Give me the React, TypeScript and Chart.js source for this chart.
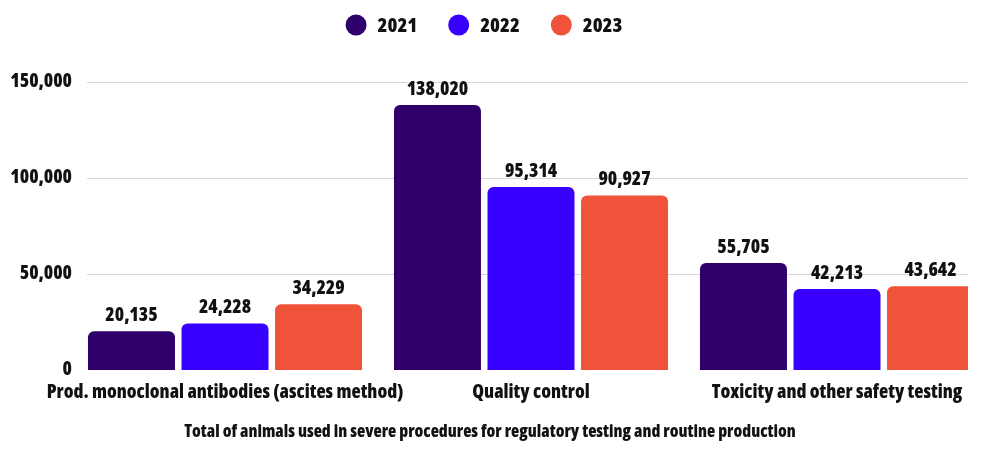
import React, { useEffect, useRef } from "react";
import { Chart, registerables } from "chart.js";

Chart.register(...registerables);

const categories = [
  "Prod. monoclonal antibodies (ascites method)",
  "Quality control",
  "Toxicity and other safety testing",
];
const seriesLabels = ["2021", "2022", "2023"];
const values2021 = [20135, 138020, 55705];
const values2022 = [24228, 95314, 42213];
const values2023 = [34229, 90927, 43642];
const yTicks = [0, 50000, 100000, 150000];
const colors = ["#2F006B", "#3700FF", "#EF533A"];
const footnote =
  "Total of animals used in severe procedures for regulatory testing and routine production";

// Condensed heavy sans (font-stretch goes in with the weight part of the shorthand)
const FAMILY = "'Open Sans'";
const HEAVY = "condensed 800";
const fmt = (v: number) => v.toLocaleString("en-US");

// Horizontal guide lines, starting a little right of the tick labels
const gridPlugin = {
  id: "guideLines",
  beforeDatasetsDraw(chart: any) {
    const { ctx } = chart;
    const y = chart.scales.y;
    ctx.save();
    ctx.strokeStyle = "#d6d6d6";
    ctx.lineWidth = 1;
    yTicks.forEach((t) => {
      if (t === 0) return;
      const py = Math.round(y.getPixelForValue(t)) + 0.5;
      ctx.beginPath();
      ctx.moveTo(87, py);
      ctx.lineTo(chart.width, py);
      ctx.stroke();
    });
    ctx.restore();
  },
};

// Value labels above every bar
const valueLabelPlugin = {
  id: "valueLabels",
  afterDatasetsDraw(chart: any) {
    const { ctx } = chart;
    ctx.save();
    ctx.font = `${HEAVY} 19px ${FAMILY}`;
    ctx.fillStyle = "#111";
    ctx.textAlign = "center";
    ctx.textBaseline = "alphabetic";
    chart.data.datasets.forEach((ds: any, i: number) => {
      const meta = chart.getDatasetMeta(i);
      meta.data.forEach((bar: any, j: number) => {
        ctx.fillText(fmt(ds.data[j]), bar.x, bar.y - 10);
      });
    });
    ctx.restore();
  },
};

// Round-dot legend centred above the plot, and the caption below the axis
const legendPlugin = {
  id: "dotLegend",
  afterDraw(chart: any) {
    const { ctx } = chart;
    const r = 10.5;
    const gap = 11;
    const itemGap = 31;
    ctx.save();
    ctx.font = `${HEAVY} 20px ${FAMILY}`;
    const widths = chart.data.datasets.map((d: any) => ctx.measureText(d.label).width);
    const total =
      widths.reduce((a: number, w: number) => a + 2 * r + gap + w, 0) + itemGap * (widths.length - 1);
    let x = 484 - total / 2;
    const cy = 25;
    ctx.textBaseline = "middle";
    ctx.textAlign = "left";
    chart.data.datasets.forEach((d: any, i: number) => {
      ctx.fillStyle = d.backgroundColor;
      ctx.beginPath();
      ctx.arc(x + r, cy, r, 0, Math.PI * 2);
      ctx.fill();
      ctx.fillStyle = "#111";
      ctx.fillText(d.label, x + 2 * r + gap, cy + 1);
      x += 2 * r + gap + widths[i] + itemGap;
    });

    ctx.font = `${HEAVY} 17px ${FAMILY}`;
    ctx.textAlign = "center";
    ctx.fillText(footnote, 490, 432);
    ctx.restore();
  },
};

export default function App() {
  const ref = useRef<HTMLCanvasElement>(null);

  useEffect(() => {
    if (!ref.current) return;
    const data = [values2021, values2022, values2023];
    const chart = new Chart(ref.current, {
      type: "bar",
      data: {
        labels: categories,
        datasets: seriesLabels.map((label, i) => ({
          label,
          data: data[i],
          backgroundColor: colors[i],
          borderRadius: { topLeft: 6, topRight: 6, bottomLeft: 0, bottomRight: 0 },
          borderSkipped: false,
          categoryPercentage: 0.917,
          barPercentage: 0.93,
        })),
      },
      options: {
        responsive: false,
        animation: false,
        layout: { padding: { left: 0, right: 0, top: 82, bottom: 0 } },
        plugins: {
          legend: { display: false },
          title: { display: false },
          tooltip: { enabled: false },
        },
        scales: {
          x: {
            grid: { display: false },
            border: { display: false },
            afterFit: (s: any) => {
              s.height = 94;
            },
            ticks: {
              color: "#111",
              padding: 3,
              maxRotation: 0,
              autoSkip: false,
              font: { family: FAMILY, size: 19, weight: HEAVY as any },
            },
          },
          y: {
            min: 0,
            max: 150000,
            afterFit: (s: any) => {
              s.width = 72;
            },
            afterBuildTicks: (s: any) => {
              s.ticks = yTicks.map((v) => ({ value: v }));
            },
            grid: { display: false, drawTicks: false },
            border: { display: false },
            ticks: {
              color: "#111",
              padding: 0,
              font: { family: FAMILY, size: 19, weight: HEAVY as any },
              callback: (v: any) => fmt(Number(v)),
            },
          },
        },
      },
      plugins: [gridPlugin, valueLabelPlugin, legendPlugin],
    });
    return () => chart.destroy();
  }, []);

  return (
    <div
      style={{
        position: "absolute",
        left: 0,
        top: 0,
        width: 968,
        height: 464,
        overflow: "hidden",
        background: "#fff",
      }}
    >
      <canvas ref={ref} width={990} height={464} />
    </div>
  );
}
